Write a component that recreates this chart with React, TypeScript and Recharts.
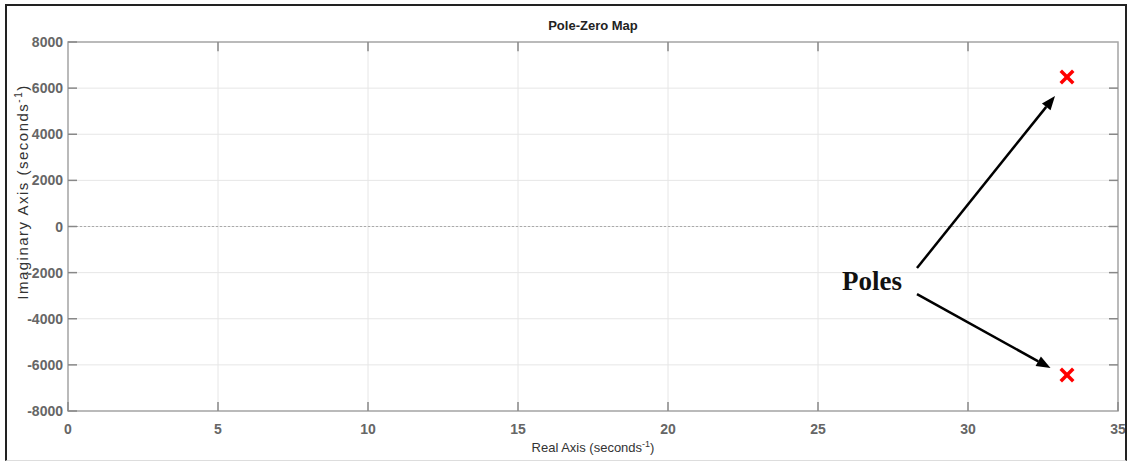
import React from 'react';
import { ScatterChart, Scatter, XAxis, YAxis, CartesianGrid, ReferenceLine, ReferenceArea, ReferenceDot } from 'recharts';

const xTicks = [0, 5, 10, 15, 20, 25, 30, 35];
const yTicks = [-8000, -6000, -4000, -2000, 0, 2000, 4000, 6000, 8000];
const poleReal = [33.3, 33.3];
const poleImag = [6480, -6440];
const arrowStart = [
  { x: 28.3, y: -1800 },
  { x: 28.3, y: -2930 },
];
const arrowEnd = [
  { x: 32.9, y: 5660 },
  { x: 32.75, y: -6140 },
];
const annotation = { x: 26.8, y: -2330, text: 'Poles' };

const poles = poleReal.map((x, i) => ({ x, y: poleImag[i] }));

const FONT = '"Liberation Sans", Arial, sans-serif';
const W = 1129;
const H = 461;

function PoleMark(props: any) {
  const { cx, cy } = props;
  const s = 5;
  return (
    <g stroke="#ff0000" strokeWidth={3.5} strokeLinecap="square">
      <line x1={cx - s} y1={cy - s} x2={cx + s} y2={cy + s} />
      <line x1={cx - s} y1={cy + s} x2={cx + s} y2={cy - s} />
    </g>
  );
}

function Arrow(props: any) {
  const { x1, y1, x2, y2 } = props;
  const ang = Math.atan2(y2 - y1, x2 - x1);
  const len = 14;
  const half = 5.5;
  const bx = x2 - len * Math.cos(ang);
  const by = y2 - len * Math.sin(ang);
  const px = -Math.sin(ang) * half;
  const py = Math.cos(ang) * half;
  return (
    <g>
      <line x1={x1} y1={y1} x2={bx} y2={by} stroke="#000" strokeWidth={2.5} />
      <polygon points={`${x2},${y2} ${bx + px},${by + py} ${bx - px},${by - py}`} fill="#000" />
    </g>
  );
}

// tick label plus a short inward MATLAB-style tick mark
function XTick(props: any) {
  const { x, y, payload } = props;
  const axisY = y - 12;
  return (
    <g>
      <line x1={x} y1={axisY} x2={x} y2={axisY - 9} stroke="#888" strokeWidth={1.5} />
      <text x={x} y={y} dy="0.75em" textAnchor="middle" fontFamily={FONT} fontSize={14} fontWeight={700} fill="#666">
        {payload.value}
      </text>
    </g>
  );
}

function YTick(props: any) {
  const { x, y, payload } = props;
  const axisX = x + 5;
  return (
    <g>
      <line x1={axisX} y1={y} x2={axisX + 9} y2={y} stroke="#888" strokeWidth={1.5} />
      <text x={x} y={y} dy="0.36em" textAnchor="end" fontFamily={FONT} fontSize={14} fontWeight={700} fill="#666">
        {payload.value}
      </text>
    </g>
  );
}

export default function App() {
  return (
    <div style={{ position: 'relative', width: W, height: H, background: '#fff' }}>
      <style>{`body{margin:0}`}</style>
      <ScatterChart width={W} height={H} margin={{ top: 42, right: 11, bottom: 0, left: 0 }}>
        <CartesianGrid stroke="#e6e6e6" strokeWidth={1} />
        <XAxis
          type="number"
          dataKey="x"
          domain={[0, 35]}
          ticks={xTicks}
          height={50}
          tickLine={false}
          tickSize={0}
          tickMargin={12}
          axisLine={false}
          tick={<XTick />}
        />
        <YAxis
          type="number"
          dataKey="y"
          domain={[-8000, 8000]}
          ticks={yTicks}
          width={68}
          tickLine={false}
          tickSize={0}
          tickMargin={5}
          axisLine={false}
          tick={<YTick />}
        />
        <ReferenceLine y={0} stroke="#aaa" strokeDasharray="2 2" />
        <ReferenceArea x1={0} x2={35} y1={-8000} y2={8000} fill="none" stroke="#a8a8a8" strokeWidth={1.5} />
        {xTicks.slice(1, -1).map((t) => (
          <ReferenceLine key={`t${t}`} segment={[{ x: t, y: 8000 }, { x: t, y: 7600 }]} stroke="#888" strokeWidth={1.5} />
        ))}
        {yTicks.slice(1, -1).map((t) => (
          <ReferenceLine key={`r${t}`} segment={[{ x: 35, y: t }, { x: 34.7, y: t }]} stroke="#888" strokeWidth={1.5} />
        ))}
        {arrowStart.map((s, i) => (
          <ReferenceLine key={i} segment={[s, arrowEnd[i]]} shape={(p: any) => <Arrow {...p} />} />
        ))}
        <ReferenceDot
          x={annotation.x}
          y={annotation.y}
          r={0}
          fill="none"
          stroke="none"
          label={{
            value: annotation.text,
            position: 'center',
            fontFamily: '"Liberation Serif", "Times New Roman", serif',
            fontWeight: 700,
            fontSize: 27,
            fill: '#111',
          }}
        />
        <Scatter data={poles} isAnimationActive={false} shape={(p: any) => <PoleMark {...p} />} />
      </ScatterChart>
      <div style={{ position: 'absolute', left: 68, width: 1050, top: 18, textAlign: 'center', fontFamily: FONT, fontSize: 13, fontWeight: 700, color: '#222' }}>
        Pole-Zero Map
      </div>
      <div style={{ position: 'absolute', left: 68, width: 1050, top: 439, textAlign: 'center', fontFamily: FONT, fontSize: 13, color: '#333' }}>
        Real Axis (seconds<sup style={{ fontSize: 9 }}>-1</sup>)
      </div>
      <div
        style={{
          position: 'absolute',
          left: 22,
          top: 192,
          transform: 'translate(-50%, -50%) rotate(-90deg)',
          whiteSpace: 'nowrap',
          fontFamily: FONT,
          fontSize: 15,
          letterSpacing: 1.5,
          color: '#333',
        }}
      >
        Imaginary Axis (seconds<sup style={{ fontSize: 10 }}>-1</sup>)
      </div>
      <div
        style={{
          position: 'absolute',
          left: 5,
          top: 4,
          width: 1118,
          height: 454,
          borderTop: '2px solid #222',
          borderLeft: '2px solid #222',
          borderRight: '2px solid #222',
          borderBottom: '1px solid #ddd',
          pointerEvents: 'none',
        }}
      />
    </div>
  );
}
